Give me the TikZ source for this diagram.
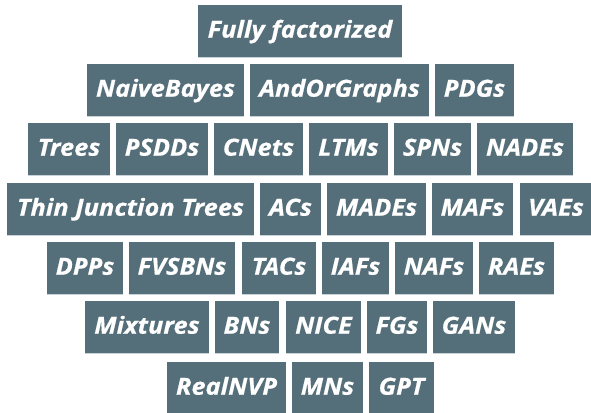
\documentclass[tikz,border=0pt]{standalone}
\usepackage{fontspec}
\setmainfont{Open Sans}
\newfontfamily\cellfont{Open Sans}[FakeStretch=1.08,FakeBold=0.6]
\definecolor{boxfill}{HTML}{546E7A}
\definecolor{boxedge}{HTML}{C9D2D6}
\tikzset{
  cell/.style={fill=boxfill, text=white, inner sep=0pt, minimum height=52pt,
    text height=17pt, text depth=3.6pt,
    font=\cellfont\fontsize{23.5}{28}\selectfont\bfseries\itshape},
  celledge/.style={draw=boxedge, line width=1.2pt}
}
\newcommand{\cellbox}[5]{%
  \node[cell, minimum width=#4pt] (#1) at (#2,#3) {#5};
  \draw[celledge] ([yshift=-0.6pt]#1.south west) -- ([yshift=-0.6pt]#1.south east);
}
\begin{document}
\begin{tikzpicture}[x=1pt,y=-1pt]
\useasboundingbox (0,0) rectangle (591,412);
\clip (0,0) rectangle (591,412);
% row 1
\cellbox{ff}{300}{31}{204}{Fully factorized}
% row 2
\cellbox{nb}{165.5}{90}{157}{NaiveBayes}
\cellbox{aog}{339.5}{90}{179}{AndOrGraphs}
\cellbox{pdg}{474.5}{90}{79}{PDGs}
% row 3
\cellbox{trees}{69}{149}{82}{Trees}
\cellbox{psdd}{162}{149}{92}{PSDDs}
\cellbox{cnet}{258.5}{149}{89}{CNets}
\cellbox{ltm}{348.5}{149}{79}{LTMs}
\cellbox{spn}{432.5}{149}{77}{SPNs}
\cellbox{nade}{525}{149}{96}{NADEs}
% row 4
\cellbox{tjt}{130.5}{209}{247}{Thin Junction Trees}
\cellbox{ac}{290.5}{209}{61}{ACs}
\cellbox{made}{376.5}{209}{99}{MADEs}
\cellbox{maf}{472.5}{209}{81}{MAFs}
\cellbox{vae}{556}{209}{72}{VAEs}
% row 5
\cellbox{dpp}{85}{268}{76}{DPPs}
\cellbox{fvsbn}{182}{268}{106}{FVSBNs}
\cellbox{tac}{279}{268}{74}{TACs}
\cellbox{iaf}{355.5}{268}{67}{IAFs}
\cellbox{naf}{434}{268}{78}{NAFs}
\cellbox{rae}{516.5}{268}{75}{RAEs}
% row 6
\cellbox{mix}{147}{327}{124}{Mixtures}
\cellbox{bn}{247}{327}{64}{BNs}
\cellbox{nice}{323.5}{327}{75}{NICE}
\cellbox{fg}{397}{327}{60}{FGs}
\cellbox{gan}{474}{327}{82}{GANs}
% row 7
\cellbox{rnvp}{226.5}{388}{119}{RealNVP}
\cellbox{mn}{327.5}{388}{71}{MNs}
\cellbox{gpt}{401.5}{388}{65}{GPT}
\end{tikzpicture}
\end{document}
